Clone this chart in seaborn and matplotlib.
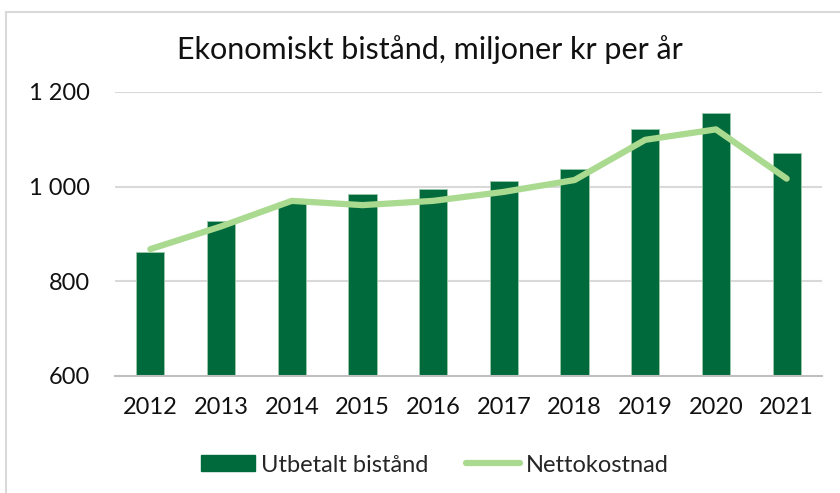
import numpy as np
import pandas as pd
import matplotlib.pyplot as plt
import matplotlib.patches as mpatches
import matplotlib.lines as mlines
import seaborn as sns

# Data
years = ['2012', '2013', '2014', '2015', '2016', '2017', '2018', '2019', '2020', '2021']
utbetalt = [862, 928, 967, 985, 996, 1013, 1038, 1121, 1156, 1071]
netto = [868, 916, 970, 961, 970, 989, 1014, 1099, 1121, 1017]
y_ticks = [600, 800, 1000, 1200]
y_tick_labels = ['600', '800', '1 000', '1 200']

bar_color = '#006A3C'
line_color = '#A9DA8F'
grid_color = '#D9D9D9'

sns.set_style('white')
plt.rcParams['font.family'] = ['Lato', 'DejaVu Sans']

df = pd.DataFrame({'year': years, 'utbetalt': utbetalt, 'netto': netto})

fig = plt.figure(figsize=(8.4, 4.93), dpi=100)
ax = fig.add_axes([115 / 840, 1 - 376 / 493, 707 / 840, 284 / 493])

# light frame around the chart
fig.patches.append(mpatches.Rectangle((6 / 840, -0.1), 1.2, 1 - 12 / 493 + 0.1,
                                      transform=fig.transFigure, fill=False,
                                      edgecolor=grid_color, linewidth=1.5, zorder=0))

for t in y_ticks[1:]:
    ax.axhline(t, color=grid_color, linewidth=1.5, zorder=0)

sns.barplot(data=df, x='year', y='utbetalt', color=bar_color, width=0.4,
            edgecolor='#9CC9A8', linewidth=0.6, saturation=1, ax=ax, zorder=2)
sns.lineplot(x=np.arange(len(years)), y=df['netto'], color=line_color,
             linewidth=4.5, ax=ax, zorder=3, solid_capstyle='round')

ax.set_xlim(-0.5, len(years) - 0.5)
ax.set_ylim(600, 1200)
ax.set_yticks(y_ticks)
ax.set_yticklabels(y_tick_labels)
ax.set_xlabel('')
ax.set_ylabel('')
ax.tick_params(axis='both', length=0, labelsize=17, colors='#111111')
ax.tick_params(axis='y', pad=18)
ax.tick_params(axis='x', pad=15)

for s in ['top', 'right', 'left']:
    ax.spines[s].set_visible(False)
ax.spines['bottom'].set_color('#BFBFBF')
ax.spines['bottom'].set_linewidth(1.5)

fig.text(430 / 840, 1 - 50 / 493, 'Ekonomiskt bistånd, miljoner kr per år',
         ha='center', va='center', fontsize=22, color='#111111')

handles = [mpatches.Patch(color=bar_color, label='Utbetalt bistånd'),
           mlines.Line2D([], [], color=line_color, linewidth=4.5, label='Nettokostnad',
                         solid_capstyle='round')]
fig.legend(handles=handles, loc='center', bbox_to_anchor=(435 / 840, 1 - 465 / 493),
           ncol=2, frameon=False, fontsize=17, handlelength=2.3, handleheight=0.65,
           handletextpad=0.25, columnspacing=1.6)

fig.savefig('out.png', dpi=100)
